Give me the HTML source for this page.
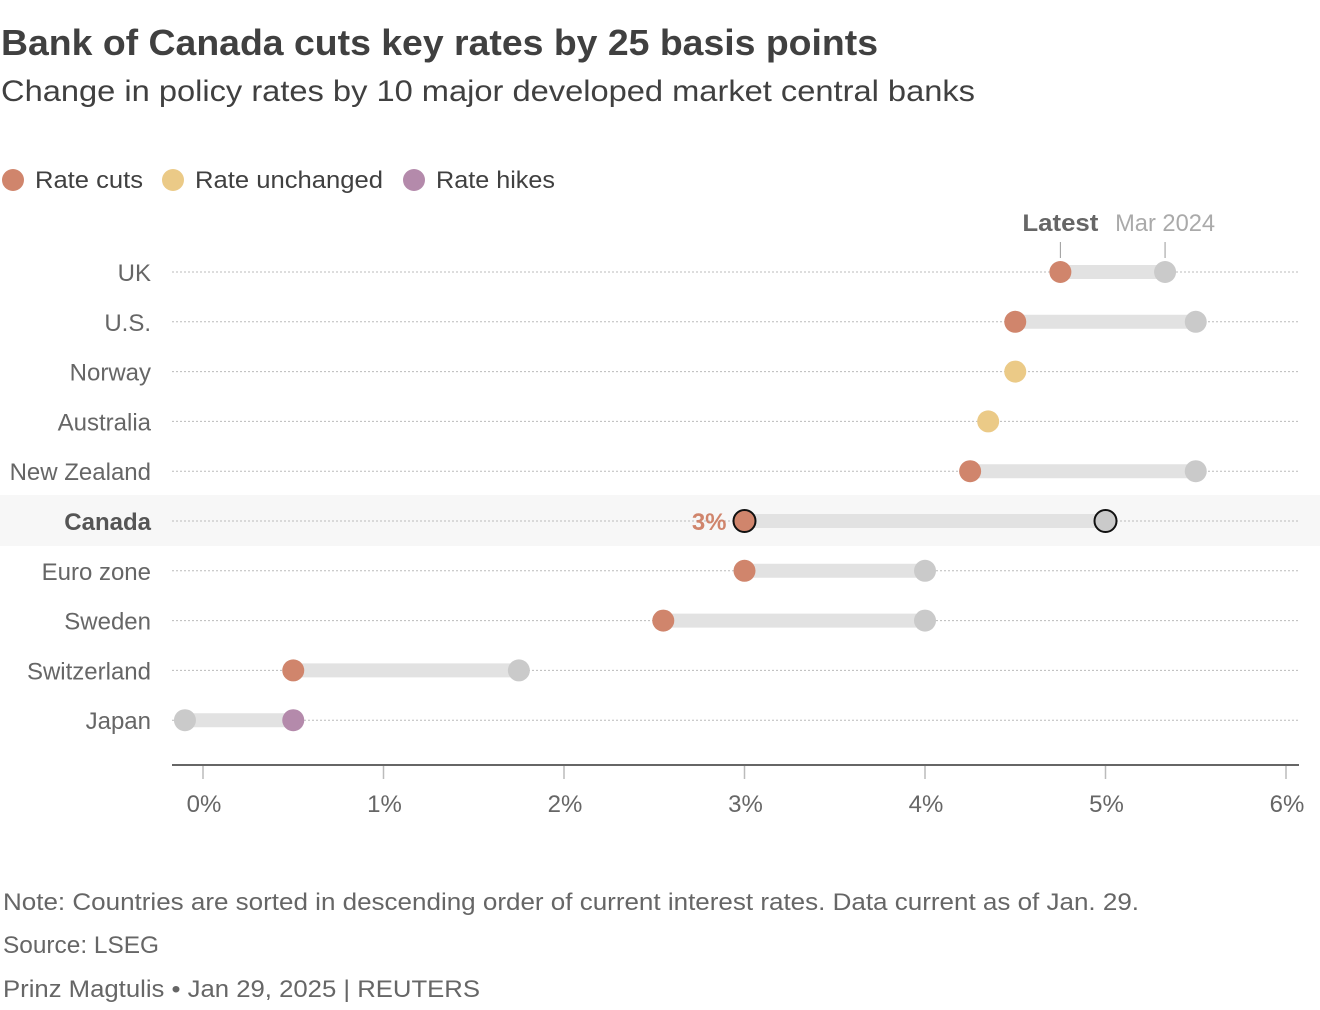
<!DOCTYPE html>
<html><head><meta charset="utf-8"><style>
body{margin:0;background:#fff;}
svg{display:block;font-family:"Liberation Sans",sans-serif;}
</style></head><body>
<svg id="chart" width="1320" height="1010" xmlns="http://www.w3.org/2000/svg">
<text x="1" y="55" font-size="36" font-weight="bold" fill="#404040" textLength="877" lengthAdjust="spacingAndGlyphs">Bank of Canada cuts key rates by 25 basis points</text>
<text x="1" y="101" font-size="30" fill="#404040" textLength="974" lengthAdjust="spacingAndGlyphs">Change in policy rates by 10 major developed market central banks</text>
<g>
<circle cx="13" cy="180" r="11" fill="#d0856c"/>
<text x="35" y="188" font-size="24" fill="#404040" textLength="108" lengthAdjust="spacingAndGlyphs">Rate cuts</text>
<circle cx="173" cy="180" r="11" fill="#ebca87"/>
<text x="195" y="188" font-size="24" fill="#404040" textLength="188" lengthAdjust="spacingAndGlyphs">Rate unchanged</text>
<circle cx="414" cy="180" r="11" fill="#b48aab"/>
<text x="436" y="188" font-size="24" fill="#404040" textLength="119" lengthAdjust="spacingAndGlyphs">Rate hikes</text>
</g>
<rect x="0" y="495" width="1320" height="51" fill="#f7f7f7"/>
<g id="plot"></g>
<text x="3" y="910" font-size="24" fill="#666" textLength="1136" lengthAdjust="spacingAndGlyphs">Note: Countries are sorted in descending order of current interest rates. Data current as of Jan. 29.</text>
<text x="3" y="953" font-size="24" fill="#666" textLength="156" lengthAdjust="spacingAndGlyphs">Source: LSEG</text>
<text x="3" y="997" font-size="24" fill="#666" textLength="477" lengthAdjust="spacingAndGlyphs">Prinz Magtulis • Jan 29, 2025 | REUTERS</text>
</svg>
<script>
const countries=["UK","U.S.","Norway","Australia","New Zealand","Canada","Euro zone","Sweden","Switzerland","Japan"];
const latest=[4.75,4.5,4.5,4.35,4.25,3,3,2.55,0.5,0.5];
const mar2024=[5.33,5.5,4.5,4.35,5.5,5,4,4,1.75,-0.1];
const xTicks=[0,1,2,3,4,5,6];
const xTickLabels=["0%","1%","2%","3%","4%","5%","6%"];
const NS="http://www.w3.org/2000/svg";
const g=document.getElementById('plot');
const x=v=>203+v*180.5;
const y=i=>272+i*49.8;
function mk(t,a,p){const e=document.createElementNS(NS,t);for(const k in a)e.setAttribute(k,a[k]);(p||g).appendChild(e);return e;}
const cols={cut:"#d0856c",same:"#ebca87",hike:"#b48aab"};
countries.forEach((c,i)=>{
  const yy=y(i);
  const gl=mk('line',{x1:172,x2:1299,y1:yy,y2:yy,stroke:"#bbb","stroke-width":1,"stroke-dasharray":"2,2"});
  
  
  const lb=mk('text',{x:151,y:yy+9,"font-size":24,fill:c==="Canada"?"#555":"#666","text-anchor":"end","font-weight":c==="Canada"?"bold":"normal"});
  lb.textContent=c;
  
  
  const a=latest[i],b=mar2024[i];
  if(a!==b){
    const bar=mk('line',{x1:x(a),x2:x(b),y1:yy,y2:yy,stroke:"#e2e2e2","stroke-width":14});
    
    
    const pc=mk('circle',{cx:x(b),cy:yy,r:11,fill:"#cacaca"});
    if(c==="Canada"){pc.setAttribute('stroke','#111');pc.setAttribute('stroke-width',2);}
    
    
  }
  const col=a<b?cols.cut:(a>b?cols.hike:cols.same);
  const lc=mk('circle',{cx:x(a),cy:yy,r:11,fill:col});
  if(c==="Canada"){lc.setAttribute('stroke','#111');lc.setAttribute('stroke-width',2);
    const t=mk('text',{x:x(a)-18,y:yy+9,"font-size":24,"font-weight":"bold",fill:"#d0856c","text-anchor":"end"});
    t.textContent=a+"%";
    
    
  }
  
  
});
const h1=mk('text',{x:x(latest[0]),y:231,"font-size":24,"font-weight":"bold",fill:"#666","text-anchor":"middle",textLength:76,lengthAdjust:"spacingAndGlyphs"});
h1.textContent="Latest";


const h1l=mk('line',{x1:x(latest[0]),x2:x(latest[0]),y1:242,y2:258,stroke:"#999"});


const h2=mk('text',{x:x(mar2024[0]),y:231,"font-size":24,fill:"#aaa","text-anchor":"middle",textLength:100,lengthAdjust:"spacingAndGlyphs"});
h2.textContent="Mar 2024";


const h2l=mk('line',{x1:x(mar2024[0]),x2:x(mar2024[0]),y1:242,y2:258,stroke:"#999"});


const ax=mk('line',{x1:172,x2:1299,y1:765,y2:765,stroke:"#666","stroke-width":2});


xTicks.forEach((v,i)=>{
  const tk=mk('line',{x1:x(v),x2:x(v),y1:766,y2:779,stroke:"#bbb","stroke-width":1.5});
  
  
  const tl=mk('text',{x:x(v)+1,y:812,"font-size":24,fill:"#666","text-anchor":"middle"});
  tl.textContent=xTickLabels[i];
  
  
});
</script>
</body></html>
